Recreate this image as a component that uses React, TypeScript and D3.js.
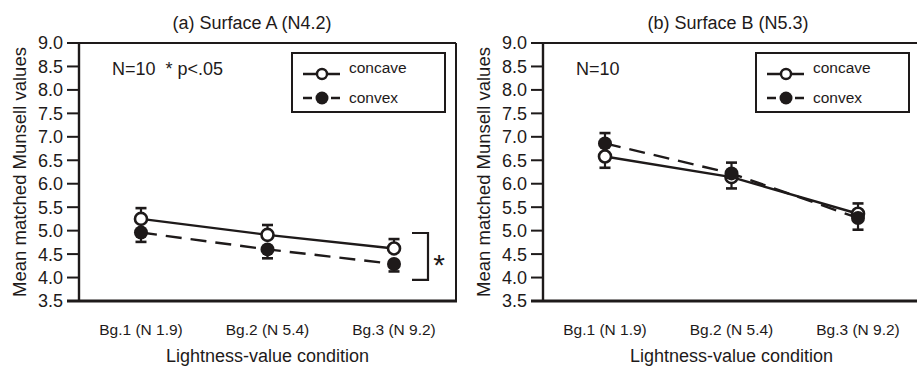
import React from "react";
import { scaleLinear, scalePoint, line, range } from "d3";

// x categories shared by both panels
const conditions = ["Bg.1 (N 1.9)", "Bg.2 (N 5.4)", "Bg.3 (N 9.2)"];
const yTicks = range(3.5, 9.01, 0.5);

// (a) Surface A
const concaveA = [5.25, 4.91, 4.62];
const concaveAErr = [0.23, 0.21, 0.2];
const convexA = [4.96, 4.6, 4.29];
const convexAErr = [0.2, 0.19, 0.16];

// (b) Surface B
const concaveB = [6.58, 6.14, 5.36];
const concaveBErr = [0.24, 0.24, 0.22];
const convexB = [6.86, 6.22, 5.27];
const convexBErr = [0.22, 0.23, 0.25];

const ink = "#1e1a1a";
const font = "'Liberation Sans', Arial, sans-serif";

const top = 43;
const bottom = 301;
const plotW = 377;

const yScale = scaleLinear().domain([3.5, 9.0]).range([bottom, top]);

function Panel({ left, title, titleX, note, concave, concaveErr, convex, convexErr, bracket }) {
  const x = scalePoint().domain(conditions).range([left, left + plotW]).padding(0.49);
  const path = line().x((d, i) => x(conditions[i])).y(d => yScale(d));
  const right = left + plotW;
  const legX = left + 213;
  const midX = left + plotW / 2;

  const errBar = (vals, errs, other) =>
    vals.map((v, i) => {
      const cx = x(conditions[i]);
      const end = vals[i] >= other[i] ? v + errs[i] : v - errs[i];
      return (
        <g key={i} stroke={ink} strokeWidth={2.2}>
          <line x1={cx} x2={cx} y1={yScale(v)} y2={yScale(end)} />
          <line x1={cx - 5.5} x2={cx + 5.5} y1={yScale(end)} y2={yScale(end)} strokeWidth={2.6} />
        </g>
      );
    });

  return (
    <g>
      <text x={titleX} y={29} textAnchor="middle" fontSize={18} fill={ink}>{title}</text>

      {/* frame */}
      <line x1={left} x2={right} y1={top} y2={top} stroke={ink} strokeWidth={2} />
      <line x1={right} x2={right} y1={top} y2={bottom} stroke={ink} strokeWidth={2} />
      <line x1={left - 12} x2={right + 1} y1={bottom} y2={bottom} stroke={ink} strokeWidth={3} />
      <line x1={left} x2={left} y1={top - 1} y2={bottom} stroke={ink} strokeWidth={2.4} />

      {yTicks.map(t => (
        <g key={t}>
          <line x1={left - 12} x2={left} y1={yScale(t)} y2={yScale(t)} stroke={ink} strokeWidth={2} />
          <text x={left - 16} y={yScale(t)} dy="0.36em" textAnchor="end" fontSize={18} fill={ink}>
            {t.toFixed(1)}
          </text>
        </g>
      ))}

      {conditions.map(c => (
        <text key={c} x={x(c)} y={335} textAnchor="middle" fontSize={15.5} fill={ink}>{c}</text>
      ))}

      <text x={midX} y={362} textAnchor="middle" fontSize={18} fill={ink}>Lightness-value condition</text>
      <text
        transform={`translate(${left - 59},${(top + bottom) / 2}) rotate(-90)`}
        textAnchor="middle"
        dy="0.35em"
        fontSize={18.5}
        fill={ink}
      >
        Mean matched Munsell values
      </text>

      <text x={left + 33} y={75} fontSize={18} fill={ink} style={{ whiteSpace: "pre" }}>{note}</text>

      {/* legend */}
      <rect x={legX} y={53} width={153} height={59} fill="white" stroke={ink} strokeWidth={2} />
      <line x1={legX + 11} x2={legX + 48} y1={74} y2={74} stroke={ink} strokeWidth={2.4} />
      <circle cx={legX + 30} cy={74} r={5} fill="white" stroke={ink} strokeWidth={2.4} />
      <text x={legX + 57} y={73} fontSize={15.5} fill={ink}>concave</text>
      <line x1={legX + 11} x2={legX + 48} y1={98} y2={98} stroke={ink} strokeWidth={2.4} strokeDasharray="9 19" />
      <circle cx={legX + 30} cy={98} r={6.5} fill={ink} />
      <text x={legX + 57} y={103} fontSize={15.5} fill={ink}>convex</text>

      {/* series */}
      <path d={path(concave)} fill="none" stroke={ink} strokeWidth={2.4} />
      <path d={path(convex)} fill="none" stroke={ink} strokeWidth={2.4} strokeDasharray="16 9" />
      {errBar(concave, concaveErr, convex)}
      {errBar(convex, convexErr, concave)}
      {concave.map((v, i) => (
        <circle key={i} cx={x(conditions[i])} cy={yScale(v)} r={6} fill="white" stroke={ink} strokeWidth={2.6} />
      ))}
      {convex.map((v, i) => (
        <circle key={i} cx={x(conditions[i])} cy={yScale(v)} r={7} fill={ink} />
      ))}

      {bracket && (
        <g>
          <path
            d={`M${right - 44},${yScale(bracket[0])}H${right - 28}V${yScale(bracket[1])}H${right - 44}`}
            fill="none"
            stroke={ink}
            strokeWidth={2.2}
          />
          <text x={right - 17} y={yScale((bracket[0] + bracket[1]) / 2) + 19} textAnchor="middle" fontSize={30} fill={ink}>*</text>
        </g>
      )}
    </g>
  );
}

export default function App() {
  return (
    <svg
      width={917}
      height={367}
      style={{ position: "absolute", left: 0, top: 0, background: "white", fontFamily: font }}
    >
      <rect width={917} height={367} fill="white" />
      <Panel
        left={79}
        title="(a) Surface A (N4.2)"
        titleX={252}
        note="N=10  * p<.05"
        concave={concaveA}
        concaveErr={concaveAErr}
        convex={convexA}
        convexErr={convexAErr}
        bracket={[4.95, 3.95]}
      />
      <Panel
        left={543}
        title="(b) Surface B (N5.3)"
        titleX={728}
        note="N=10"
        concave={concaveB}
        concaveErr={concaveBErr}
        convex={convexB}
        convexErr={convexBErr}
        bracket={null}
      />
    </svg>
  );
}
